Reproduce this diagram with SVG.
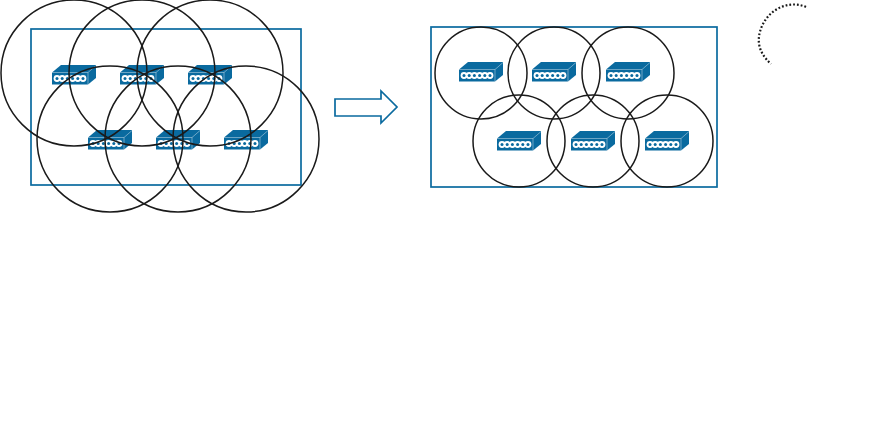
<svg xmlns="http://www.w3.org/2000/svg" width="881" height="421" viewBox="0 0 881 421">
<style>
.c{fill:none;stroke:#1a1a1a;stroke-width:1.5}
.r{fill:none;stroke:#0a6a9f;stroke-width:1.7}
.f{fill:#0a6a9f}
.e{fill:none;stroke:#fff;stroke-width:.5;opacity:.8}
.w{fill:#fff}
</style>
<defs>
<g id="sw">
<path class="f" d="M0 7.500L9 0H44V13L36 19.500H0Z"/>
<path class="e" d="M0 7.500H36L44 .5M36 7.500V19.500"/>
<g class="w"><circle cx="5" cy="13.500" r="3.400"/><circle cx="10.200" cy="13.500" r="3.400"/><circle cx="15.400" cy="13.500" r="3.400"/><circle cx="20.600" cy="13.500" r="3.400"/><circle cx="25.800" cy="13.500" r="3.400"/><circle cx="31" cy="13.500" r="3.400"/></g>
<g class="f"><circle cx="5" cy="13.500" r="1.500"/><circle cx="10.200" cy="13.500" r="1.500"/><circle cx="15.400" cy="13.500" r="1.500"/><circle cx="20.600" cy="13.500" r="1.500"/><circle cx="25.800" cy="13.500" r="1.500"/><circle cx="31" cy="13.500" r="1.500"/></g>
</g>
</defs>
<g id="nodes">
<g id="s1"><use href="#sw" x="52" y="65"/></g>
<g id="s2"><use href="#sw" x="120" y="65"/></g>
<g id="s3"><use href="#sw" x="188" y="65"/></g>
<g id="s4"><use href="#sw" x="88" y="130"/></g>
<g id="s5"><use href="#sw" x="156" y="130"/></g>
<g id="s6"><use href="#sw" x="224" y="130"/></g>
<g id="s7"><use href="#sw" x="459" y="62"/></g>
<g id="s8"><use href="#sw" x="532" y="62"/></g>
<g id="s9"><use href="#sw" x="606" y="62"/></g>
<g id="s10"><use href="#sw" x="497" y="131"/></g>
<g id="s11"><use href="#sw" x="571" y="131"/></g>
<g id="s12"><use href="#sw" x="645" y="131"/></g>
<g id="area-left"><rect class="r" x="31" y="29" width="270" height="156"/></g>
<g id="area-right"><rect class="r" x="431" y="27" width="286" height="160"/></g>
<g id="ranges-left">
<circle class="c" cx="74" cy="73" r="73"/><circle class="c" cx="142" cy="73" r="73"/><circle class="c" cx="210" cy="73" r="73"/>
<circle class="c" cx="110" cy="139" r="73"/><circle class="c" cx="178" cy="139" r="73"/><circle class="c" cx="246" cy="139" r="73"/>
</g>
<g id="ranges-right">
<circle class="c" cx="481" cy="73" r="46"/><circle class="c" cx="554" cy="73" r="46"/><circle class="c" cx="628" cy="73" r="46"/>
<circle class="c" cx="519" cy="141" r="46"/><circle class="c" cx="593" cy="141" r="46"/><circle class="c" cx="667" cy="141" r="46"/>
</g>
<g id="arrow"><path class="r" d="M335 99H381V91L397 107L381 123V116H335Z"/></g>
<g id="dotted-arc"><path d="M806 7C790 0 770 8 762 26C756 40 758 52 771 64" fill="none" stroke="#1a1a1a" stroke-width="2.200" stroke-dasharray="1.800 2"/></g>
</g>
<g id="connectors"/>
</svg>
